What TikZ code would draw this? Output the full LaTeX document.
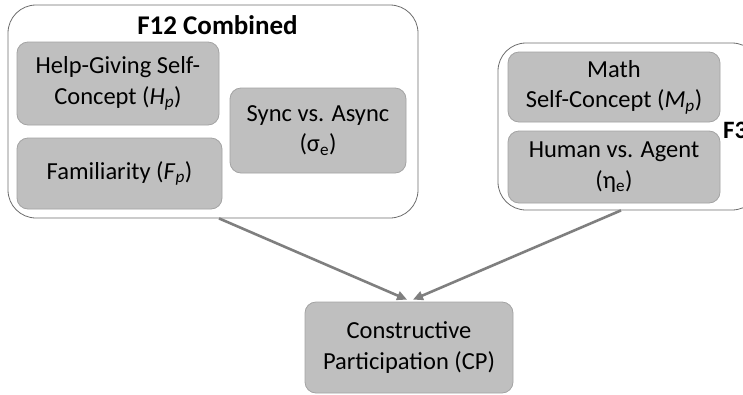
\documentclass[tikz,border=0pt]{standalone}
\usepackage{fontspec}
\setmainfont{Carlito}
\usetikzlibrary{arrows.meta}
\definecolor{boxfill}{HTML}{BFBFBF}
\definecolor{boxline}{HTML}{A3A3A3}
\definecolor{frameline}{HTML}{6E6E6E}
\definecolor{arrowgray}{HTML}{7F7F7F}
\tikzset{
  factor/.style={draw=boxline, fill=boxfill, line width=0.8pt, rounded corners=11pt,
    align=center, inner sep=0pt, font=\fontsize{24.5}{30.5}\selectfont},
  group/.style={draw=frameline, fill=white, line width=0.8pt, rounded corners=28pt, inner sep=0pt},
  link/.style={draw=arrowgray, line width=2.6pt, -{Triangle[length=10pt,width=9pt]}},
}
\begin{document}
\begin{tikzpicture}[x=1pt, y=-1pt]
\clip (0,0) rectangle (743,394);
\useasboundingbox (0,0) rectangle (743,394);

% grouping frames
\node[group, minimum width=410pt, minimum height=213pt] (lout) at (213,111.5) {};
\node[group, minimum width=262pt, minimum height=167pt] (rout) at (629,126.5) {};
\node[font=\fontsize{27}{30}\selectfont\bfseries] (ltitle) at (217.5,25) {F12 Combined};
\node[font=\fontsize{25}{28}\selectfont\bfseries, anchor=west, inner sep=0pt] (rtitle) at (723,130) {F3};

% factors
\node[factor, minimum width=202pt, minimum height=83pt] (help) at (118,83.5)
  {Help-Giving Self-\\Concept (\textit{H}\textsubscript{\textit{p}})};
\node[factor, minimum width=205pt, minimum height=71pt] (fam) at (119.5,173.5)
  {Familiarity (\textit{F}\textsubscript{\textit{p}})};
\node[factor, minimum width=176pt, minimum height=85pt] (sync) at (318,130.5)
  {Sync vs. Async\\(σ\textsubscript{e})};
\node[factor, minimum width=212pt, minimum height=70pt] (math) at (614,87)
  {Math\\Self-Concept (\textit{M}\textsubscript{\textit{p}})};
\node[factor, minimum width=212pt, minimum height=72pt] (human) at (614,167)
  {Human vs. Agent\\(η\textsubscript{e})};
\node[factor, minimum width=208pt, minimum height=91pt] (cp) at (409,347.5)
  {Constructive\\Participation (CP)};

% influences on the outcome
\draw[link] ([xshift=6pt]lout.south) -- ([xshift=-2pt,yshift=2pt]cp.north);
\draw[link] ([xshift=-8pt]rout.south) -- ([xshift=4pt,yshift=2pt]cp.north);
\end{tikzpicture}
\end{document}
